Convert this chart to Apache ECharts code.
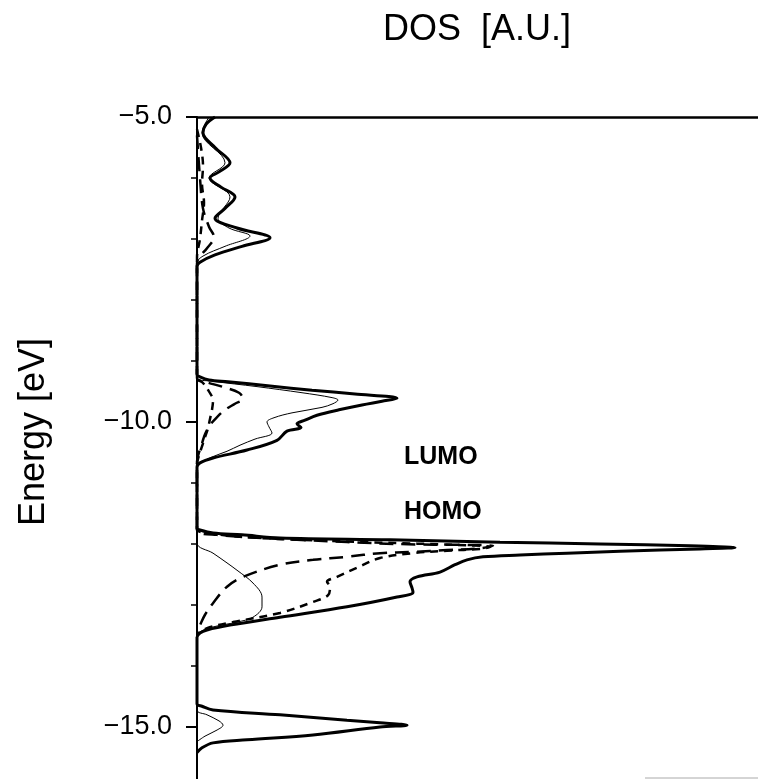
<!DOCTYPE html>
<html>
<head>
<meta charset="utf-8">
<title>DOS</title>
<script src="https://cdn.jsdelivr.net/npm/echarts@6/dist/echarts.min.js"></script>
<style>
  html, body { margin: 0; padding: 0; background: #fff; }
  #chart { width: 758px; height: 779px; }
</style>
</head>
<body>
<div id="chart"></div>
<script>
// Density of states, [energy (eV), DOS (arbitrary units)] pairs, one band per block.
const totalDos = [
  [-5.00, 18], [-5.12, 9], [-5.26, 6], [-5.50, 18], [-5.75, 33], [-5.90, 22], [-6.00, 13],
  [-6.15, 24], [-6.31, 38], [-6.50, 28], [-6.66, 18], [-6.82, 40], [-6.98, 73],
  [-7.12, 45], [-7.26, 18], [-7.38, 3], [-7.45, 0],
  [-9.22, 0], [-9.26, 3], [-9.31, 12], [-9.34, 31], [-9.41, 73], [-9.48, 115], [-9.54, 158],
  [-9.61, 200], [-9.66, 185], [-9.72, 165], [-9.80, 142], [-9.89, 120], [-9.97, 108],
  [-10.03, 100], [-10.09, 104], [-10.15, 90], [-10.30, 80], [-10.46, 50], [-10.59, 16],
  [-10.67, 3], [-10.74, 0],
  [-11.74, 0], [-11.77, 3], [-11.82, 16], [-11.85, 45], [-11.90, 83], [-11.93, 193],
  [-11.97, 303], [-12.00, 403], [-12.03, 493], [-12.06, 538], [-12.08, 503], [-12.12, 423],
  [-12.15, 370], [-12.18, 323], [-12.21, 286], [-12.26, 270], [-12.34, 258], [-12.46, 243],
  [-12.54, 220], [-12.62, 213], [-12.72, 215], [-12.79, 216], [-12.87, 200], [-13.03, 150],
  [-13.20, 83], [-13.33, 33], [-13.41, 10], [-13.46, 3], [-13.53, 0],
  [-14.62, 0], [-14.66, 5], [-14.72, 16], [-14.80, 83], [-14.89, 150], [-14.93, 183],
  [-14.97, 210], [-15.00, 183], [-15.13, 116], [-15.21, 50], [-15.26, 16], [-15.34, 5],
  [-15.42, 0]
];

const thinDos = [
  [-5.00, 12], [-5.26, 5], [-5.75, 28], [-6.00, 12], [-6.31, 33], [-6.66, 21],
  [-6.82, 32], [-6.95, 53], [-7.12, 28], [-7.28, 6], [-7.40, 0],
  [-9.28, 0], [-9.33, 15], [-9.42, 60], [-9.52, 105], [-9.60, 135], [-9.64, 141],
  [-9.70, 136], [-9.76, 125], [-9.85, 95], [-9.93, 77], [-10.00, 70], [-10.08, 72],
  [-10.18, 75], [-10.28, 58], [-10.38, 43], [-10.48, 30], [-10.58, 14], [-10.68, 3],
  [-10.74, 0],
  [-11.98, 0], [-12.15, 16], [-12.31, 30], [-12.43, 40], [-12.64, 56], [-12.87, 65],
  [-13.03, 65], [-13.20, 56], [-13.28, 40], [-13.36, 16], [-13.44, 3], [-13.51, 0],
  [-14.72, 0], [-14.80, 10], [-14.90, 22], [-14.97, 26], [-15.05, 20], [-15.15, 8],
  [-15.24, 0]
];

const longDashDos = [
  [-5.30, 0], [-6.00, 3], [-6.50, 6], [-6.80, 12], [-6.97, 17], [-7.15, 10],
  [-7.30, 2], [-7.40, 0],
  [-9.28, 0], [-9.34, 8], [-9.42, 25], [-9.52, 42], [-9.62, 46], [-9.70, 38],
  [-9.80, 28], [-9.92, 20], [-10.05, 13], [-10.20, 8], [-10.35, 5], [-10.50, 2],
  [-10.65, 0],
  [-11.77, 0], [-11.85, 20], [-11.93, 100], [-12.00, 200], [-12.03, 296], [-12.07, 283],
  [-12.10, 250], [-12.13, 216], [-12.15, 183], [-12.21, 150], [-12.26, 116], [-12.34, 83],
  [-12.54, 46], [-12.70, 30], [-12.97, 16], [-13.16, 8], [-13.33, 3], [-13.44, 0]
];

const shortDashDos = [
  [-5.20, 0], [-5.50, 4], [-5.80, 6], [-6.10, 5], [-6.40, 7], [-6.70, 5],
  [-7.00, 3], [-7.30, 0],
  [-9.28, 0], [-9.36, 6], [-9.50, 12], [-9.65, 16], [-9.80, 15], [-9.95, 13],
  [-10.10, 11], [-10.25, 8], [-10.40, 5], [-10.55, 2], [-10.70, 0],
  [-11.75, 0], [-11.82, 10], [-11.90, 60], [-11.97, 170], [-12.02, 270], [-12.05, 293],
  [-12.08, 283], [-12.11, 250], [-12.15, 216], [-12.23, 183], [-12.39, 160], [-12.54, 140],
  [-12.62, 130], [-12.70, 133], [-12.84, 131], [-12.95, 116], [-13.13, 83], [-13.28, 36],
  [-13.38, 10], [-13.48, 0]
];

// Energy axis ticks (eV); the axis runs on past the bottom edge
const energyMin = -20;
const energyMax = -5;
const energyStep = 5;

const FONT = 'Liberation Sans, Arial, Helvetica, sans-serif';

// series data as [dos, energy] so the energy runs vertically
const toXY = arr => arr.map(p => [p[1], p[0]]);

const chart = echarts.init(document.getElementById('chart'), null, { renderer: 'canvas' });

function lineSeries(name, data, width, dash) {
  return {
    name: name,
    type: 'line',
    data: toXY(data),
    showSymbol: false,
    symbol: 'none',
    smooth: 0.35,
    lineStyle: { color: '#000', width: width, type: dash || 'solid' },
    z: 3
  };
}

chart.setOption({
  animation: false,
  backgroundColor: '#fff',
  grid: { left: 197, right: 0, top: 117, height: 915, containLabel: false, outerBoundsMode: 'none' },
  xAxis: {
    type: 'value',
    position: 'top',
    min: 0,
    max: 561,
    axisLine: { show: true, onZero: false, lineStyle: { color: '#000', width: 2.5 } },
    axisTick: { show: false },
    axisLabel: { show: false },
    splitLine: { show: false }
  },
  yAxis: {
    type: 'value',
    min: energyMin,
    max: energyMax,
    interval: energyStep,
    axisLine: { show: true, onZero: false, lineStyle: { color: '#000', width: 2 } },
    axisTick: { show: true, length: 11, lineStyle: { color: '#000', width: 2 } },
    minorTick: { show: true, splitNumber: 5, length: 6, lineStyle: { color: '#000', width: 1.5 } },
    axisLabel: {
      margin: 25,
      color: '#000',
      fontSize: 27,
      fontFamily: FONT,
      formatter: v => (v < 0 ? '\u2212' : '') + Math.abs(v).toFixed(1)
    },
    splitLine: { show: false }
  },
  series: [
    lineSeries('total', totalDos, 3),
    lineSeries('thin', thinDos, 1),
    lineSeries('long dash', longDashDos, 2.5, [14, 8]),
    lineSeries('short dash', shortDashDos, 2.5, [8, 6])
  ],
  graphic: [
    {
      type: 'text', x: 477, y: 30,
      style: { text: 'DOS  [A.U.]', font: '36px ' + FONT, fill: '#000', textAlign: 'center', textVerticalAlign: 'middle' }
    },
    {
      type: 'text', x: 34, y: 432, rotation: Math.PI / 2,
      style: { text: 'Energy [eV]', font: '36px ' + FONT, fill: '#000', textAlign: 'center', textVerticalAlign: 'middle' }
    },
    {
      type: 'text', x: 404, y: 457,
      style: { text: 'LUMO', font: 'bold 25px ' + FONT, fill: '#000', textAlign: 'left', textVerticalAlign: 'middle' }
    },
    {
      type: 'text', x: 404, y: 512,
      style: { text: 'HOMO', font: 'bold 25px ' + FONT, fill: '#000', textAlign: 'left', textVerticalAlign: 'middle' }
    },
    {
      type: 'line', shape: { x1: 645, y1: 778, x2: 758, y2: 778 },
      style: { stroke: '#aaa', lineWidth: 1 }
    }
  ]
});
</script>
</body>
</html>
